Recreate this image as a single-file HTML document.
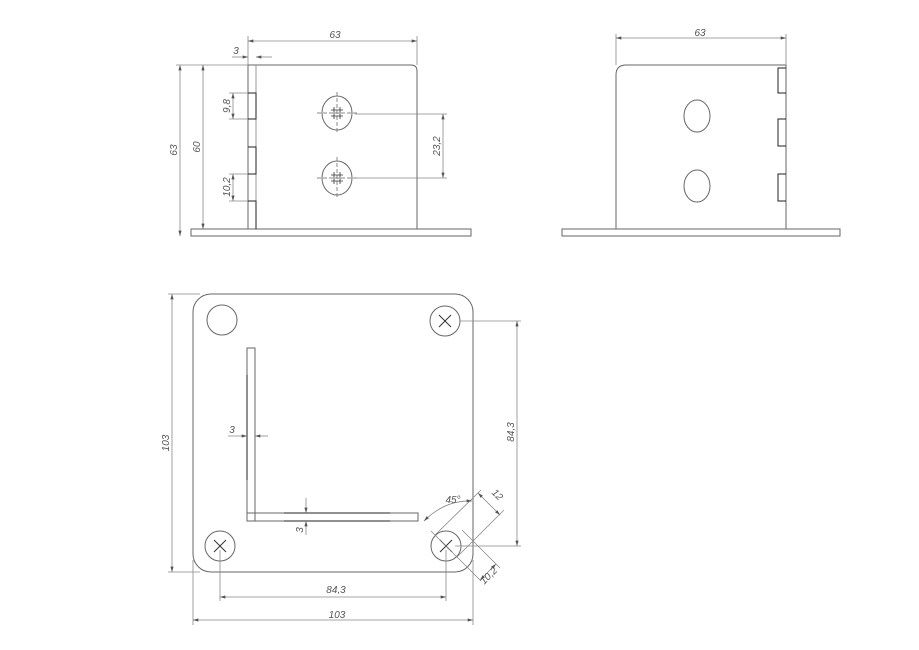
<!DOCTYPE html>
<html><head><meta charset="utf-8"><style>
html,body{margin:0;padding:0;background:#fff;width:919px;height:650px;overflow:hidden}
svg{display:block}
text{font-family:"Liberation Sans",sans-serif;font-style:italic;font-size:10px;fill:#555}
</style></head><body>
<svg width="919" height="650" viewBox="0 0 919 650" xmlns="http://www.w3.org/2000/svg">
<defs><marker id="a" viewBox="0 0 10 6" refX="10" refY="3" markerWidth="8" markerHeight="4" orient="auto-start-reverse"><path d="M0,0L10,3L0,6z" fill="#555"/></marker></defs>
<g fill="none" stroke="#666" stroke-width="1">
<rect x="191" y="229" width="280" height="7"/>
<path d="M248,229V65H411Q417,65 417,71V229"/>
<line x1="256" y1="65" x2="256" y2="229" stroke="#999"/>
<path d="M248,93H256V119H248M248,147H256V174H248M248,201H256V229" stroke="#222"/>
<ellipse cx="337" cy="113" rx="15" ry="17"/>
<ellipse cx="337" cy="178" rx="15" ry="17"/>
<g stroke="#888" stroke-dasharray="4,2"><line x1="337" y1="92" x2="337" y2="134"/><line x1="317" y1="113" x2="357" y2="113"/><line x1="337" y1="157" x2="337" y2="199"/><line x1="317" y1="178" x2="357" y2="178"/></g>
<path d="M331,110H343M331,116H343M334,107V119M340,107V119M331,175H343M331,181H343M334,172V184M340,172V184" stroke="#333" stroke-width="0.8"/>
<g stroke="#888" stroke-width="0.8">
<line x1="248" y1="36" x2="248" y2="65"/><line x1="417" y1="36" x2="417" y2="65"/>
<line x1="248" y1="41" x2="417" y2="41" marker-start="url(#a)" marker-end="url(#a)"/>
<line x1="232" y1="57" x2="248" y2="57" marker-end="url(#a)"/><line x1="272" y1="57" x2="256" y2="57" marker-end="url(#a)"/>
<line x1="176" y1="65" x2="248" y2="65"/>
<line x1="180" y1="65" x2="180" y2="236" marker-start="url(#a)" marker-end="url(#a)"/>
<line x1="203" y1="65" x2="203" y2="229" marker-start="url(#a)" marker-end="url(#a)"/>
<line x1="229" y1="93" x2="248" y2="93"/><line x1="229" y1="119" x2="248" y2="119"/>
<line x1="233" y1="93" x2="233" y2="119" marker-start="url(#a)" marker-end="url(#a)"/>
<line x1="229" y1="174" x2="248" y2="174"/><line x1="229" y1="201" x2="248" y2="201"/>
<line x1="233" y1="174" x2="233" y2="201" marker-start="url(#a)" marker-end="url(#a)"/>
<line x1="355" y1="114" x2="447" y2="114"/><line x1="355" y1="178" x2="447" y2="178"/>
<line x1="443" y1="114" x2="443" y2="178" marker-start="url(#a)" marker-end="url(#a)"/>
</g>
<rect x="562" y="229" width="278" height="7"/>
<path d="M616,229V75Q616,65 626,65H786V229"/>
<path d="M786,68H778V93H786M786,119H778V146H786M786,174H778V201H786" stroke="#222"/>
<ellipse cx="697" cy="116" rx="13" ry="16"/>
<ellipse cx="697" cy="186" rx="13" ry="16"/>
<g stroke="#888" stroke-width="0.8">
<line x1="616" y1="34" x2="616" y2="65"/><line x1="786" y1="34" x2="786" y2="65"/>
<line x1="616" y1="38" x2="786" y2="38" marker-start="url(#a)" marker-end="url(#a)"/>
</g>
<rect x="193" y="294" width="280" height="278" rx="18"/>
<circle cx="222" cy="320" r="15"/>
<circle cx="445" cy="321" r="15"/><circle cx="220" cy="546" r="15"/><circle cx="446" cy="546" r="15"/>
<path d="M439,315L451,327M451,315L439,327M214,540L226,552M226,540L214,552M440,540L452,552M452,540L440,552" stroke="#333"/>
<rect x="247" y="348" width="8" height="173"/>
<rect x="247" y="513" width="171" height="8"/>
<path d="M247,375V480M284,513H390M284,521H390" stroke="#222"/>
<g stroke="#888" stroke-width="0.8">
<line x1="168" y1="294" x2="200" y2="294"/><line x1="168" y1="572" x2="200" y2="572"/>
<line x1="172" y1="294" x2="172" y2="572" marker-start="url(#a)" marker-end="url(#a)"/>
<line x1="193" y1="560" x2="193" y2="625"/><line x1="473" y1="560" x2="473" y2="625"/>
<line x1="193" y1="620" x2="473" y2="620" marker-start="url(#a)" marker-end="url(#a)"/>
<line x1="220" y1="550" x2="220" y2="601"/><line x1="446" y1="550" x2="446" y2="601"/>
<line x1="220" y1="597" x2="446" y2="597" marker-start="url(#a)" marker-end="url(#a)"/>
<line x1="460" y1="321" x2="521" y2="321"/><line x1="455" y1="546" x2="521" y2="546"/>
<line x1="517" y1="321" x2="517" y2="546" marker-start="url(#a)" marker-end="url(#a)"/>
<line x1="228" y1="436" x2="247" y2="436" marker-end="url(#a)"/><line x1="268" y1="436" x2="255" y2="436" marker-end="url(#a)"/>
<line x1="306" y1="498" x2="306" y2="513" marker-end="url(#a)"/><line x1="306" y1="535" x2="306" y2="521" marker-end="url(#a)"/>
<line x1="435" y1="535" x2="481" y2="490"/><line x1="457" y1="557" x2="504" y2="510"/>
<line x1="478" y1="493" x2="500" y2="515" marker-start="url(#a)" marker-end="url(#a)"/>
<line x1="431" y1="531" x2="481" y2="581"/><line x1="462" y1="530" x2="500" y2="568"/>
<line x1="496" y1="564" x2="480" y2="580" marker-start="url(#a)" marker-end="url(#a)"/>
<path d="M424,521Q445,500 472,501" marker-start="url(#a)" marker-end="url(#a)"/>
</g>
</g>
<text x="335" y="38" text-anchor="middle">63</text>
<text x="236" y="54" text-anchor="middle">3</text>
<text transform="translate(177,150) rotate(-90)" text-anchor="middle">63</text>
<text transform="translate(200,147) rotate(-90)" text-anchor="middle">60</text>
<text transform="translate(230,106) rotate(-90)" text-anchor="middle">9,8</text>
<text transform="translate(230,187) rotate(-90)" text-anchor="middle">10,2</text>
<text transform="translate(440,146) rotate(-90)" text-anchor="middle">23,2</text>
<text x="700" y="36" text-anchor="middle">63</text>
<text transform="translate(169,443) rotate(-90)" text-anchor="middle">103</text>
<text x="337" y="618" text-anchor="middle">103</text>
<text x="336" y="593" text-anchor="middle">84,3</text>
<text transform="translate(514,432) rotate(-90)" text-anchor="middle">84,3</text>
<text x="232" y="433" text-anchor="middle">3</text>
<text transform="translate(303,530) rotate(-90)" text-anchor="middle">3</text>
<text x="453" y="503" text-anchor="middle">45°</text>
<text transform="translate(495,497) rotate(45)" text-anchor="middle">12</text>
<text transform="translate(491,578) rotate(-45)" text-anchor="middle">10,2</text>
</svg>
</body></html>
